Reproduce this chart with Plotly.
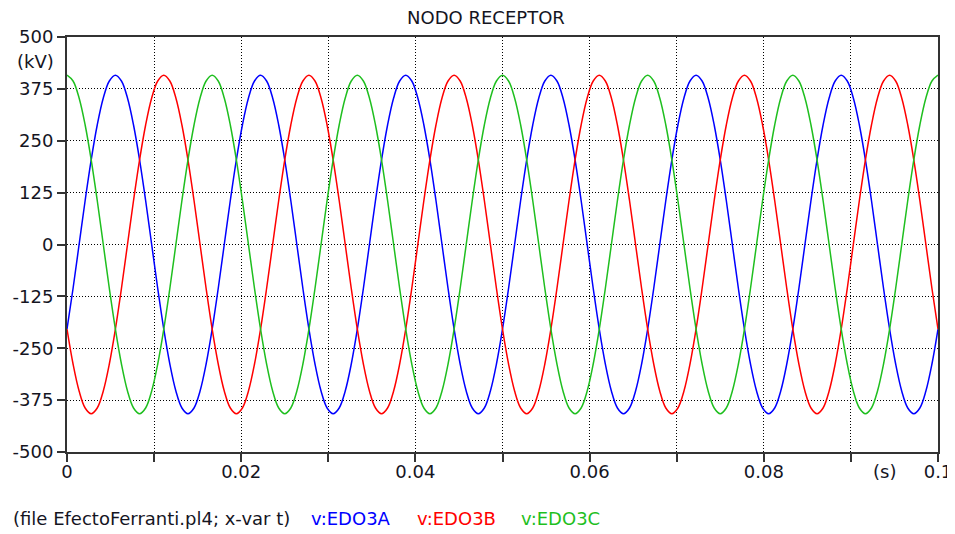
import plotly.graph_objects as go

# Sampling grid: 24 samples per 60 Hz cycle over 0..0.1 s
t_step_s = 1.0 / 1440.0
n_samples = 145
time_s = [k * t_step_s for k in range(n_samples)]

# Values (kV), one 60 Hz cycle = 24 samples
v_edo3a = [
    -204, -106, 0, 106, 204, 288, 353, 394, 408, 394, 353, 288, 204, 106, 0, -106, -204, -288, -353, -394, -408, -394, -353, -288,
    -204, -106, 0, 106, 204, 288, 353, 394, 408, 394, 353, 288, 204, 106, 0, -106, -204, -288, -353, -394, -408, -394, -353, -288,
    -204, -106, 0, 106, 204, 288, 353, 394, 408, 394, 353, 288, 204, 106, 0, -106, -204, -288, -353, -394, -408, -394, -353, -288,
    -204, -106, 0, 106, 204, 288, 353, 394, 408, 394, 353, 288, 204, 106, 0, -106, -204, -288, -353, -394, -408, -394, -353, -288,
    -204, -106, 0, 106, 204, 288, 353, 394, 408, 394, 353, 288, 204, 106, 0, -106, -204, -288, -353, -394, -408, -394, -353, -288,
    -204, -106, 0, 106, 204, 288, 353, 394, 408, 394, 353, 288, 204, 106, 0, -106, -204, -288, -353, -394, -408, -394, -353, -288,
    -204,
]
v_edo3b = [
    -204, -288, -353, -394, -408, -394, -353, -288, -204, -106, 0, 106, 204, 288, 353, 394, 408, 394, 353, 288, 204, 106, 0, -106,
    -204, -288, -353, -394, -408, -394, -353, -288, -204, -106, 0, 106, 204, 288, 353, 394, 408, 394, 353, 288, 204, 106, 0, -106,
    -204, -288, -353, -394, -408, -394, -353, -288, -204, -106, 0, 106, 204, 288, 353, 394, 408, 394, 353, 288, 204, 106, 0, -106,
    -204, -288, -353, -394, -408, -394, -353, -288, -204, -106, 0, 106, 204, 288, 353, 394, 408, 394, 353, 288, 204, 106, 0, -106,
    -204, -288, -353, -394, -408, -394, -353, -288, -204, -106, 0, 106, 204, 288, 353, 394, 408, 394, 353, 288, 204, 106, 0, -106,
    -204, -288, -353, -394, -408, -394, -353, -288, -204, -106, 0, 106, 204, 288, 353, 394, 408, 394, 353, 288, 204, 106, 0, -106,
    -204,
]
v_edo3c = [
    408, 394, 353, 288, 204, 106, 0, -106, -204, -288, -353, -394, -408, -394, -353, -288, -204, -106, 0, 106, 204, 288, 353, 394,
    408, 394, 353, 288, 204, 106, 0, -106, -204, -288, -353, -394, -408, -394, -353, -288, -204, -106, 0, 106, 204, 288, 353, 394,
    408, 394, 353, 288, 204, 106, 0, -106, -204, -288, -353, -394, -408, -394, -353, -288, -204, -106, 0, 106, 204, 288, 353, 394,
    408, 394, 353, 288, 204, 106, 0, -106, -204, -288, -353, -394, -408, -394, -353, -288, -204, -106, 0, 106, 204, 288, 353, 394,
    408, 394, 353, 288, 204, 106, 0, -106, -204, -288, -353, -394, -408, -394, -353, -288, -204, -106, 0, 106, 204, 288, 353, 394,
    408, 394, 353, 288, 204, 106, 0, -106, -204, -288, -353, -394, -408, -394, -353, -288, -204, -106, 0, 106, 204, 288, 353, 394,
    408,
]

series_names = ["v:EDO3A", "v:EDO3B", "v:EDO3C"]
series_colors = ["#0000ff", "#ff0000", "#1fbf1f"]

x_tick_vals = [0, 0.01, 0.02, 0.03, 0.04, 0.05, 0.06, 0.07, 0.08, 0.09, 0.1]
x_tick_text = ["0", "", "0.02", "", "0.04", "", "0.06", "", "0.08", "", "0.1"]
y_tick_vals = [-500, -375, -250, -125, 0, 125, 250, 375, 500]
y_tick_text = ["-500", "-375", "-250", "-125", "0", "125", "250", "375", "500"]

FONT = "DejaVu Sans"
FS = 18
TXT = "#15151f"
PAGE_OFF = 8  # default page body margin

fig = go.Figure()
for name, vals, col in zip(series_names, [v_edo3a, v_edo3b, v_edo3c], series_colors):
    fig.add_trace(go.Scatter(x=time_s, y=vals, mode="lines", name=name,
                             line=dict(color=col, width=1.5, shape="spline"),
                             showlegend=False))

W, H = 955 - PAGE_OFF, 534 - PAGE_OFF
fig.update_layout(
    width=W, height=H,
    margin=dict(l=67 - PAGE_OFF, r=17, t=37 - PAGE_OFF, b=82, autoexpand=False),
    paper_bgcolor="white", plot_bgcolor="white",
    font=dict(family=FONT, size=FS, color=TXT),
    title=dict(text="NODO RECEPTOR", x=0.481, xref="paper", xanchor="center",
               y=1 - (18 - PAGE_OFF) / H, yref="container", yanchor="middle",
               font=dict(family=FONT, size=FS, color=TXT)),
)
fig.update_xaxes(
    range=[0, 0.1], tickvals=x_tick_vals, ticktext=x_tick_text, automargin=False,
    showgrid=True, gridcolor="#000000", gridwidth=1, griddash="1px,2px",
    zeroline=False, showline=True, linecolor="#333333", linewidth=2, mirror=True,
    ticks="outside", ticklen=8, tickcolor="#333333", tickwidth=2,
    ticklabelstandoff=-6,
    tickfont=dict(family=FONT, size=FS, color=TXT),
)
fig.update_yaxes(
    range=[-500, 500], tickvals=y_tick_vals, ticktext=y_tick_text, automargin=False,
    showgrid=True, gridcolor="#000000", gridwidth=1, griddash="1px,2px",
    zeroline=False, showline=True, linecolor="#333333", linewidth=2, mirror=True,
    ticks="outside", ticklen=8, tickcolor="#333333", tickwidth=2,
    ticklabelstandoff=0,
    tickfont=dict(family=FONT, size=FS, color=TXT),
)

annots = [
    dict(text="(kV)", xref="paper", x=0, xshift=-11, xanchor="right",
         yref="y", y=440, yanchor="middle", showarrow=False,
         font=dict(family=FONT, size=FS, color=TXT)),
    dict(text="(s)", xref="x", x=0.0938, xanchor="center",
         yref="paper", y=0, yshift=-19, yanchor="middle", showarrow=False,
         font=dict(family=FONT, size=FS, color=TXT)),
    dict(text="(file EfectoFerranti.pl4; x-var t)", xref="paper", x=0, xshift=-56,
         xanchor="left", yref="paper", y=0, yshift=-66, yanchor="middle",
         showarrow=False, font=dict(family=FONT, size=FS, color=TXT)),
]
legend_x_px = [309, 415, 519]
for name, col, px in zip(series_names, series_colors, legend_x_px):
    annots.append(dict(text=name, xref="paper", x=0, xshift=px - 67, xanchor="left",
                       yref="paper", y=0, yshift=-66, yanchor="middle", showarrow=False,
                       font=dict(family=FONT, size=FS, color=col)))
fig.update_layout(annotations=annots)

fig.write_html("out.html")
